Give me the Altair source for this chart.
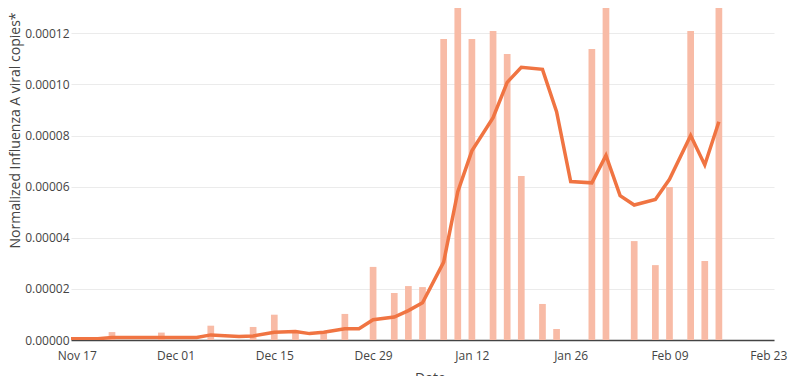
import altair as alt
import pandas as pd

# Sample (bar) data: date, normalized Influenza A viral copies
bar_dates = ["2024-11-22", "2024-11-29", "2024-12-06", "2024-12-12", "2024-12-15",
             "2024-12-18", "2024-12-22", "2024-12-25", "2024-12-29", "2025-01-01",
             "2025-01-03", "2025-01-05", "2025-01-08", "2025-01-10", "2025-01-12",
             "2025-01-15", "2025-01-17", "2025-01-19", "2025-01-22", "2025-01-24",
             "2025-01-29", "2025-01-31", "2025-02-04", "2025-02-07", "2025-02-09",
             "2025-02-12", "2025-02-14", "2025-02-16"]
bar_values = [3.1e-6, 2.9e-6, 5.6e-6, 5.1e-6, 9.9e-6,
              3.6e-6, 3.0e-6, 1.02e-5, 2.86e-5, 1.84e-5,
              2.11e-5, 2.07e-5, 1.178e-4, 1.50e-4, 1.178e-4,
              1.209e-4, 1.119e-4, 6.42e-5, 1.41e-5, 4.3e-6,
              1.139e-4, 1.50e-4, 3.87e-5, 2.93e-5, 5.99e-5,
              1.209e-4, 3.09e-5, 1.50e-4]

# Trend line data
line_dates = ["2024-11-16", "2024-11-17", "2024-11-20", "2024-11-22", "2024-11-25",
              "2024-11-29", "2024-12-04", "2024-12-06", "2024-12-10", "2024-12-12",
              "2024-12-15", "2024-12-18", "2024-12-20", "2024-12-22", "2024-12-25",
              "2024-12-27", "2024-12-29", "2025-01-01", "2025-01-03", "2025-01-05",
              "2025-01-08", "2025-01-10", "2025-01-12", "2025-01-15", "2025-01-17",
              "2025-01-19", "2025-01-22", "2025-01-24", "2025-01-26", "2025-01-29",
              "2025-01-31", "2025-02-02", "2025-02-04", "2025-02-07", "2025-02-09",
              "2025-02-12", "2025-02-14", "2025-02-16"]
line_values = [5e-7, 5e-7, 5e-7, 1.0e-6, 1.0e-6,
               1.0e-6, 1.0e-6, 2.0e-6, 1.4e-6, 1.6e-6,
               3.0e-6, 3.3e-6, 2.5e-6, 3.0e-6, 4.4e-6,
               4.4e-6, 7.9e-6, 9.0e-6, 1.15e-5, 1.46e-5,
               3.05e-5, 5.8e-5, 7.4e-5, 8.7e-5, 1.008e-4,
               1.067e-4, 1.059e-4, 8.93e-5, 6.2e-5, 6.15e-5,
               7.22e-5, 5.65e-5, 5.28e-5, 5.5e-5, 6.29e-5,
               8.0e-5, 6.85e-5, 8.54e-5]

tick_dates = ["2024-11-17", "2024-12-01", "2024-12-15", "2024-12-29",
              "2025-01-12", "2025-01-26", "2025-02-09", "2025-02-23"]
y_ticks = [0, 0.00002, 0.00004, 0.00006, 0.00008, 0.0001, 0.00012]

bars = pd.DataFrame({"date": [d + "T00:00:00" for d in bar_dates], "value": bar_values})
trend = pd.DataFrame({"date": [d + "T00:00:00" for d in line_dates], "value": line_values})


def dt(s, h=0, m=0):
    y, mo, d = [int(p) for p in s.split("-")]
    return alt.DateTime(year=y, month=mo, date=d, hours=h, minutes=m)


x_scale = alt.Scale(domain=[dt("2024-11-16", 4, 36), dt("2025-02-23", 19, 26)], padding=0)
y_scale = alt.Scale(domain=[0, 0.0001299], nice=False, padding=0)

x_axis = alt.Axis(values=[dt(s) for s in tick_dates], format="%b %d", grid=False,
                  domainColor="#444444", domainWidth=1.5, ticks=False,
                  labelFlush=False, labelPadding=10,
                  title="Date", titlePadding=10, titleX=359)
y_axis = alt.Axis(values=y_ticks, format=".5f", grid=True, gridColor="#ebebeb",
                  domain=False, ticks=False, labelPadding=2,
                  title="Normalized Influenza A viral copies*",
                  titleX=-55.5, titleY=122, titleAngle=-90, titleAlign="center",
                  titleBaseline="middle")

bar_layer = alt.Chart(bars).mark_bar(size=6.7, color="#f8bba6", clip=True).encode(
    x=alt.X("date:T", scale=x_scale, axis=x_axis),
    y=alt.Y("value:Q", scale=y_scale, axis=y_axis),
)

line_layer = alt.Chart(trend).mark_line(color="#f07442", strokeWidth=3.5, clip=True).encode(
    x=alt.X("date:T", scale=x_scale),
    y=alt.Y("value:Q", scale=y_scale),
)

chart = alt.layer(bar_layer, line_layer).properties(
    width=703, height=332,
    autosize=alt.AutoSizeParams(type="none"),
    padding={"left": 63, "top": 0, "right": 16, "bottom": 36},
).configure_view(stroke=None).configure_axis(
    labelFont="Open Sans", labelFontSize=12, labelColor="#444444",
    titleFont="Open Sans", titleFontSize=14, titleFontWeight="normal", titleColor="#444444",
)

chart.save("out.html", embed_options={"renderer": "svg", "actions": False})
